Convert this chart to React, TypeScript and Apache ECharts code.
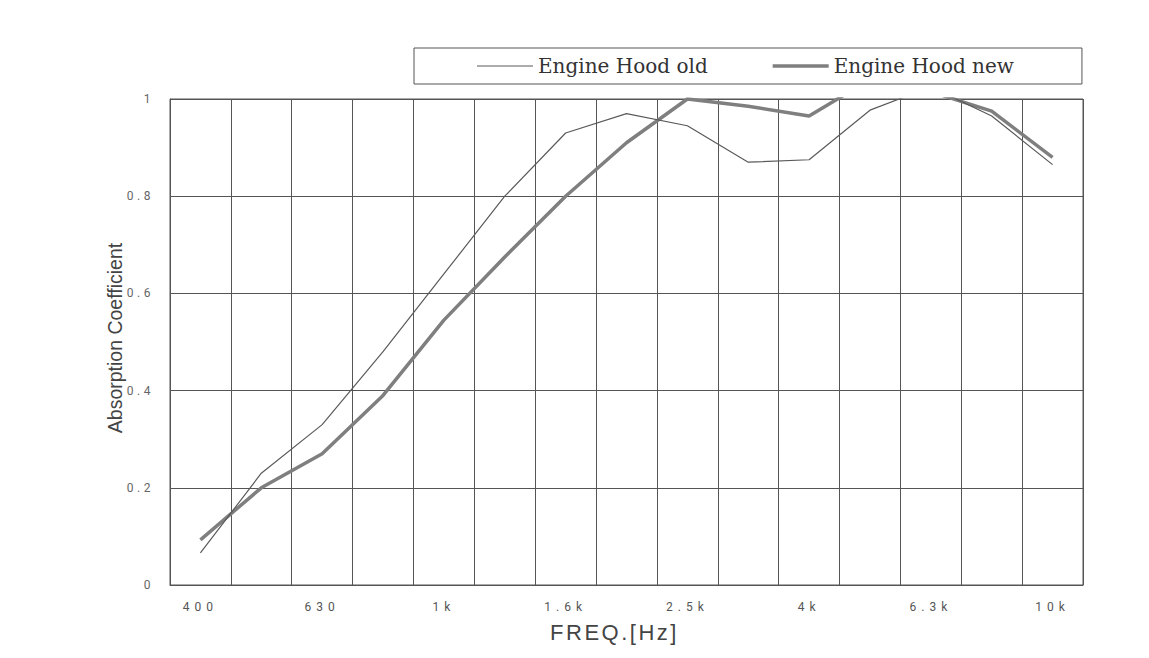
import React, { useEffect, useRef } from "react";
import * as echarts from "echarts";

const categories = ["400", "500", "630", "800", "1k", "1.25k", "1.6k", "2k", "2.5k", "3.15k", "4k", "5k", "6.3k", "8k", "10k"];
const oldValues = [0.066, 0.23, 0.33, 0.48, 0.64, 0.8, 0.93, 0.97, 0.945, 0.87, 0.875, 0.977, 1.025, 0.965, 0.865];
const newValues = [0.093, 0.2, 0.27, 0.39, 0.545, 0.675, 0.8, 0.91, 1.0, 0.985, 0.965, 1.04, 1.015, 0.975, 0.88];
const seriesNames = ["Engine Hood old", "Engine Hood new"];
const xTitle = "FREQ.[Hz]";
const yTitle = "Absorption Coefficient";

const css = `
.chartbox text[style*="Roboto"][text-anchor="middle"] { letter-spacing: 5px; }
.chartbox text[style*="Roboto"][text-anchor="end"] { letter-spacing: 3.5px; }
.chartbox text[style*="Liberation Sans"]:not([style*="sans-serif"]) { letter-spacing: 2.5px; }
`;

export default function App() {
  const ref = useRef<HTMLDivElement>(null);
  useEffect(() => {
    const chart = echarts.init(ref.current!, null, { renderer: "svg" });
    chart.setOption({
      animation: false,
      backgroundColor: "#ffffff",
      legend: {
        data: [
          { name: seriesNames[0], icon: "path://M0,0H56V1.2H0Z" },
          { name: seriesNames[1], icon: "path://M0,0H60V4H0Z" },
        ],
        left: 414,
        top: 48,
        padding: [8, 68, 8, 63],
        itemWidth: 56,
        itemHeight: 14,
        itemGap: 65,
        borderColor: "#555",
        borderWidth: 1,
        textStyle: { fontFamily: "DejaVu Serif", fontSize: 20, color: "#333" },
      },
      grid: {
        left: 170,
        right: 66,
        top: 99,
        bottom: 73,
        show: true,
        borderColor: "#555",
        borderWidth: 1,
        backgroundColor: "transparent",
      },
      xAxis: {
        type: "category",
        data: categories,
        boundaryGap: true,
        name: xTitle,
        nameLocation: "middle",
        nameGap: 36,
        nameTextStyle: { fontFamily: "Liberation Sans", fontSize: 22, color: "#444", padding: [0, 24, 0, 0] },
        axisLine: { lineStyle: { color: "#555", width: 1 } },
        axisTick: { show: false },
        axisLabel: { interval: 1, margin: 16, fontFamily: "Roboto", fontSize: 12, color: "#555" },
        splitLine: { show: true, interval: 0, lineStyle: { color: "#555", width: 1 } },
      },
      yAxis: {
        type: "value",
        min: 0,
        max: 1,
        interval: 0.2,
        name: yTitle,
        nameLocation: "middle",
        nameGap: 45,
        nameTextStyle: { fontFamily: "Liberation Sans, sans-serif", fontSize: 19.5, color: "#444", padding: [0, 0, 0, 8] },
        axisLine: { show: true, lineStyle: { color: "#555", width: 1 } },
        axisTick: { show: false },
        axisLabel: { margin: 16, fontFamily: "Roboto", fontSize: 12, color: "#666" },
        splitLine: { show: true, lineStyle: { color: "#555", width: 1 } },
      },
      series: [
        {
          name: seriesNames[0],
          type: "line",
          data: oldValues,
          symbol: "none",
          clip: true,
          lineStyle: { color: "#5a5a5a", width: 1.2 },
          itemStyle: { color: "#5a5a5a" },
          z: 3,
        },
        {
          name: seriesNames[1],
          type: "line",
          data: newValues,
          symbol: "none",
          clip: true,
          lineStyle: { color: "#7f7f7f", width: 3.5 },
          itemStyle: { color: "#7f7f7f" },
          z: 2,
        },
      ],
    });
    return () => chart.dispose();
  }, []);
  return (
    <>
      <style>{css}</style>
      <div
        ref={ref}
        className="chartbox"
        style={{ position: "fixed", left: 0, top: 0, width: 1149, height: 658, background: "#fff" }}
      />
    </>
  );
}
